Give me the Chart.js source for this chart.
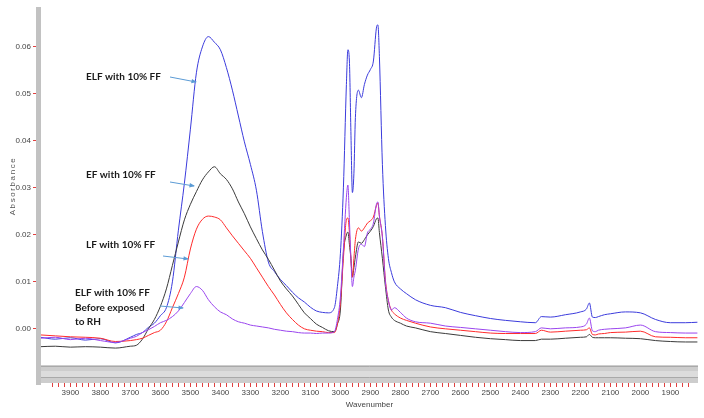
<!DOCTYPE html>
<html>
<head>
<meta charset="utf-8">
<script src="https://cdn.jsdelivr.net/npm/chart.js@4"></script>
<style>
  html, body { margin: 0; padding: 0; background: #fff; }
  canvas { display: block; }
</style>
</head>
<body>
<canvas id="myChart" width="704" height="418"></canvas>
<script>
const wavenumbers = [4000, 3950, 3900, 3850, 3800, 3750, 3700, 3680, 3660, 3640, 3620, 3600, 3580, 3560, 3540, 3520, 3500, 3480, 3460, 3440, 3420, 3400, 3380, 3360, 3340, 3320, 3300, 3280, 3260, 3240, 3220, 3200, 3180, 3160, 3140, 3120, 3100, 3080, 3060, 3040, 3020, 3010, 3000, 2990, 2980, 2975, 2970, 2965, 2960, 2955, 2950, 2940, 2930, 2920, 2910, 2900, 2890, 2880, 2875, 2870, 2860, 2850, 2840, 2830, 2820, 2800, 2780, 2750, 2700, 2650, 2600, 2550, 2500, 2450, 2400, 2350, 2330, 2300, 2250, 2200, 2180, 2170, 2160, 2150, 2140, 2120, 2100, 2050, 2000, 1950, 1900, 1850, 1810];

// ELF with 10% FF (blue)
const elfValues = [-0.0018, -0.0022, -0.0019, -0.0024, -0.0021, -0.0030, -0.0018, -0.0012, -0.0008, 0.0003, 0.0012, 0.0028, 0.0045, 0.0100, 0.0210, 0.0310, 0.0425, 0.0545, 0.0600, 0.0622, 0.0610, 0.0594, 0.0556, 0.0508, 0.0453, 0.0398, 0.0350, 0.0295, 0.0207, 0.0142, 0.0122, 0.0105, 0.0092, 0.0078, 0.0066, 0.0057, 0.0046, 0.0038, 0.0035, 0.0034, 0.0045, 0.0090, 0.0160, 0.0300, 0.0520, 0.0594, 0.0570, 0.0420, 0.0290, 0.0330, 0.0450, 0.0508, 0.0492, 0.0520, 0.0540, 0.0552, 0.0570, 0.0640, 0.0647, 0.0580, 0.0350, 0.0220, 0.0150, 0.0120, 0.0100, 0.0085, 0.0075, 0.0062, 0.0050, 0.0045, 0.0035, 0.0028, 0.0022, 0.0018, 0.0015, 0.0013, 0.0026, 0.0025, 0.0030, 0.0036, 0.0042, 0.0055, 0.0025, 0.0024, 0.0026, 0.0030, 0.0032, 0.0036, 0.0034, 0.0020, 0.0013, 0.0013, 0.0014];

// EF with 10% FF (black)
const efValues = [-0.0038, -0.0037, -0.0039, -0.0038, -0.0039, -0.0041, -0.0037, -0.0035, -0.0022, 0.0000, 0.0020, 0.0048, 0.0085, 0.0135, 0.0185, 0.0232, 0.0265, 0.0292, 0.0317, 0.0334, 0.0345, 0.0330, 0.0318, 0.0298, 0.0270, 0.0245, 0.0217, 0.0192, 0.0168, 0.0148, 0.0125, 0.0102, 0.0085, 0.0070, 0.0052, 0.0034, 0.0022, 0.0010, 0.0003, -0.0004, -0.0006, 0.0010, 0.0040, 0.0162, 0.0200, 0.0206, 0.0180, 0.0150, 0.0110, 0.0130, 0.0153, 0.0185, 0.0182, 0.0190, 0.0200, 0.0208, 0.0218, 0.0234, 0.0236, 0.0205, 0.0150, 0.0090, 0.0040, 0.0025, 0.0018, 0.0012, 0.0006, 0.0002, -0.0006, -0.0010, -0.0014, -0.0018, -0.0021, -0.0023, -0.0025, -0.0025, -0.0022, -0.0022, -0.0020, -0.0018, -0.0017, -0.0012, -0.0018, -0.0019, -0.0019, -0.0019, -0.0019, -0.0020, -0.0021, -0.0025, -0.0027, -0.0028, -0.0028];

// LF with 10% FF (red)
const lfValues = [-0.0013, -0.0015, -0.0017, -0.0018, -0.0020, -0.0027, -0.0025, -0.0023, -0.0020, -0.0014, -0.0008, -0.0003, 0.0015, 0.0045, 0.0075, 0.0110, 0.0170, 0.0212, 0.0233, 0.0240, 0.0238, 0.0232, 0.0215, 0.0198, 0.0182, 0.0166, 0.0150, 0.0130, 0.0110, 0.0090, 0.0072, 0.0052, 0.0034, 0.0020, 0.0008, 0.0000, -0.0003, -0.0005, -0.0006, -0.0008, -0.0008, 0.0010, 0.0055, 0.0150, 0.0232, 0.0236, 0.0205, 0.0150, 0.0110, 0.0150, 0.0190, 0.0215, 0.0208, 0.0215, 0.0225, 0.0230, 0.0238, 0.0262, 0.0268, 0.0240, 0.0196, 0.0104, 0.0060, 0.0040, 0.0032, 0.0023, 0.0018, 0.0012, 0.0004, 0.0000, -0.0003, -0.0006, -0.0009, -0.0010, -0.0010, -0.0010, -0.0003, -0.0007, -0.0005, -0.0003, -0.0002, 0.0002, -0.0012, -0.0013, -0.0011, -0.0010, -0.0008, -0.0007, -0.0005, -0.0017, -0.0018, -0.0019, -0.0019];

// ELF with 10% FF before exposed to RH (purple)
const elfBeforeValues = [-0.0020, -0.0018, -0.0023, -0.0020, -0.0025, -0.0029, -0.0020, -0.0016, -0.0008, -0.0002, 0.0005, 0.0013, 0.0018, 0.0026, 0.0038, 0.0056, 0.0075, 0.0090, 0.0082, 0.0062, 0.0047, 0.0036, 0.0030, 0.0021, 0.0015, 0.0012, 0.0008, 0.0006, 0.0004, 0.0002, -0.0001, -0.0003, -0.0005, -0.0006, -0.0008, -0.0009, -0.0009, -0.0010, -0.0009, -0.0009, -0.0006, 0.0020, 0.0068, 0.0170, 0.0280, 0.0306, 0.0232, 0.0150, 0.0090, 0.0110, 0.0125, 0.0170, 0.0180, 0.0175, 0.0204, 0.0212, 0.0225, 0.0265, 0.0270, 0.0240, 0.0196, 0.0100, 0.0060, 0.0040, 0.0045, 0.0035, 0.0023, 0.0015, 0.0012, 0.0006, 0.0003, 0.0000, -0.0003, -0.0006, -0.0008, -0.0006, 0.0002, 0.0000, 0.0002, 0.0004, 0.0010, 0.0023, -0.0004, -0.0006, -0.0003, -0.0001, 0.0000, 0.0002, 0.0008, -0.0006, -0.0008, -0.0009, -0.0009];

const seriesLabels = ['ELF with 10% FF', 'EF with 10% FF', 'LF with 10% FF', 'ELF with 10% FF Before exposed to RH'];

const toPoints = (values) => wavenumbers.map((w, i) => ({x: w, y: values[i]}));

const lineSet = (label, values, color) => ({
    label: label,
    data: toPoints(values),
    borderColor: color,
    borderWidth: 1,
    pointRadius: 0,
    cubicInterpolationMode: 'monotone',
    fill: false
});

const arrow = (ctx, x1, y1, x2, y2) => {
    ctx.strokeStyle = '#5b9bd5';
    ctx.fillStyle = '#5b9bd5';
    ctx.lineWidth = 1;
    ctx.beginPath();
    ctx.moveTo(x1, y1);
    ctx.lineTo(x2, y2);
    ctx.stroke();
    const a = Math.atan2(y2 - y1, x2 - x1);
    ctx.beginPath();
    ctx.moveTo(x2 + 1, y2);
    ctx.lineTo(x2 - 5 * Math.cos(a - 0.45), y2 - 5 * Math.sin(a - 0.45));
    ctx.lineTo(x2 - 5 * Math.cos(a + 0.45), y2 - 5 * Math.sin(a + 0.45));
    ctx.closePath();
    ctx.fill();
};

const framePlugin = {
    id: 'frame',
    afterDraw(chart) {
        const {ctx, chartArea: a} = chart;
        ctx.save();
        // scroll-bar like band under the plot
        ctx.fillStyle = '#cdcdcd';
        ctx.fillRect(a.left, a.bottom, a.right - a.left, 18);
        ctx.fillStyle = '#dcdcdc';
        ctx.fillRect(a.left, a.bottom + 6, a.right - a.left, 6);
        ctx.strokeStyle = '#a9a9a9';
        ctx.lineWidth = 1;
        ctx.beginPath();
        ctx.moveTo(a.left, a.bottom + 1.5);
        ctx.lineTo(a.right, a.bottom + 1.5);
        ctx.moveTo(a.left, a.bottom + 12.5);
        ctx.lineTo(a.right, a.bottom + 12.5);
        ctx.stroke();
        // left strip
        ctx.fillStyle = '#c2c2c2';
        ctx.fillRect(a.left - 5, a.top, 5, a.bottom - a.top + 20);

        // y title
        ctx.fillStyle = '#555';
        ctx.font = '8px "Liberation Sans", Arial, sans-serif';
        ctx.letterSpacing = '1.6px';
        ctx.textAlign = 'center';
        ctx.textBaseline = 'middle';
        ctx.translate(13, (a.top + a.bottom) / 2);
        ctx.rotate(-Math.PI / 2);
        ctx.fillText('Absorbance', 0, 0);
        ctx.restore();

        // annotations
        ctx.save();
        ctx.fillStyle = '#1a1a1a';
        ctx.font = 'bold 10px Lato, "Open Sans", sans-serif';
        ctx.textAlign = 'left';
        ctx.textBaseline = 'middle';
        ctx.fillText(seriesLabels[0], 86, 77);
        ctx.fillText(seriesLabels[1], 86, 175);
        ctx.fillText(seriesLabels[2], 86, 245);
        ctx.fillText('ELF with 10% FF', 75, 293);
        ctx.fillText('Before exposed', 75, 308);
        ctx.fillText('to RH', 75, 322);
        arrow(ctx, 170, 77, 196, 82);
        arrow(ctx, 170, 182, 194, 186);
        arrow(ctx, 163, 256, 188, 259);
        arrow(ctx, 160, 306, 183, 308);
        ctx.restore();
    }
};

const data = {
    datasets: [
        lineSet(seriesLabels[3], elfBeforeValues, '#9a45ee'),
        lineSet(seriesLabels[2], lfValues, '#ff2b2b'),
        lineSet(seriesLabels[1], efValues, '#3a3a3a'),
        lineSet(seriesLabels[0], elfValues, '#3b3bdc')
    ]
};

const tickFont = {family: '"Liberation Sans Narrow", "Liberation Sans", Arial, sans-serif', size: 8};

const isStep = (v, step) => Math.abs(v / step - Math.round(v / step)) < 1e-6;

const config = {
    type: 'line',
    data: data,
    options: {
        responsive: false,
        animation: false,
        devicePixelRatio: 1,
        layout: {padding: {top: 7, right: 6, left: 0, bottom: 0}},
        plugins: {legend: {display: false}, tooltip: {enabled: false}},
        scales: {
            x: {
                type: 'linear',
                reverse: true,
                min: 1808,
                max: 3998,
                afterFit: (s) => { s.height = 53; },
                afterBuildTicks: (s) => { s.ticks = s.ticks.filter(t => isStep(t.value, 20)); },
                border: {display: false},
                grid: {drawOnChartArea: false, tickLength: 22, tickColor: '#e04040', tickWidth: 1},
                ticks: {
                    stepSize: 20,
                    autoSkip: false,
                    maxRotation: 0,
                    padding: 1,
                    color: '#444',
                    font: tickFont,
                    callback: (v) => (isStep(v, 100) ? String(v) : '')
                },
                title: {display: true, text: 'Wavenumber', color: '#444', font: tickFont, padding: {top: 0, bottom: 8}}
            },
            y: {
                min: -0.0077,
                max: 0.0685,
                afterFit: (s) => { s.width = 41; },
                afterBuildTicks: (s) => { s.ticks = s.ticks.filter(t => isStep(t.value, 0.01) && t.value > -0.001 && t.value < 0.065); },
                border: {display: false},
                grid: {drawOnChartArea: false, tickLength: 8, tickColor: '#e04040'},
                ticks: {
                    stepSize: 0.01,
                    padding: 2,
                    color: '#444',
                    font: tickFont,
                    callback: (v) => v.toFixed(2)
                }
            }
        }
    },
    plugins: [framePlugin]
};

const myChart = new Chart(document.getElementById('myChart'), config);
</script>
</body>
</html>
